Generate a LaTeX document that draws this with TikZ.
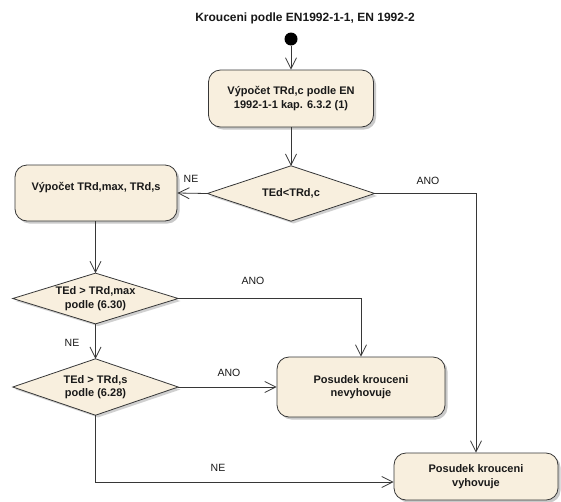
\documentclass[tikz,border=0pt]{standalone}
\usepackage{fontspec}
\setmainfont{Liberation Sans}
\usetikzlibrary{shapes.geometric,arrows.meta,shadows,calc}
\definecolor{boxfill}{RGB}{248,239,222}
\definecolor{linecol}{RGB}{55,55,55}
\definecolor{txtcol}{RGB}{25,25,25}
\tikzset{
  actbox/.style={draw=linecol, fill=boxfill, rounded corners=12pt, line width=0.8pt,
    align=center, inner sep=2pt, text=txtcol,
    font=\bfseries\fontsize{11}{13.5}\selectfont,
    drop shadow={shadow xshift=2.5pt, shadow yshift=-2.5pt, fill=black!35, opacity=0.6}},
  decbox/.style={diamond, draw=none, fill=boxfill, aspect=3, inner sep=0pt, align=center,
    text=txtcol, font=\bfseries\fontsize{11}{13.5}\selectfont,
    drop shadow={shadow xshift=2.5pt, shadow yshift=-2.5pt, fill=black!30, opacity=0.6}},
  arr/.style={draw=linecol, line width=0.8pt, -{Straight Barb[length=11pt,width=11pt,line width=0.8pt]}},
  lbl/.style={font=\fontsize{10.5}{12}\selectfont, text=txtcol, inner sep=0pt}
}
\begin{document}
\begin{tikzpicture}[x=1pt,y=-1pt]
\useasboundingbox[fill=white] (0,0) rectangle (561,501);

\node[font=\bfseries\fontsize{12}{14}\selectfont, text=txtcol, inner sep=0pt] (title) at (305,18) {Krouceni podle EN1992-1-1, EN 1992-2};
\node[circle, fill=black, minimum size=13pt, inner sep=0pt] (start) at (291,39) {};

\node[actbox, minimum width=165pt, minimum height=57pt] (b1) at (291,98.5) {Výpočet TRd,c podle EN\\1992-1-1 kap. 6.3.2 (1)};
\node[decbox, minimum width=167pt, minimum height=55pt] (d1) at (291,193.5) {TEd<TRd,c};
\node[actbox, minimum width=162pt, minimum height=56pt] (b2) at (96,193) {Výpočet TRd,max, TRd,s\\\mbox{}};
\node[decbox, minimum width=165pt, minimum height=47pt] (d2) at (95.5,298.5) {TEd > TRd,max\\podle (6.30)};
\node[decbox, minimum width=165pt, minimum height=56pt] (d3) at (95.5,387) {TEd > TRd,s\\podle (6.28)};
\node[actbox, minimum width=168pt, minimum height=60pt] (b3) at (361,387) {Posudek krouceni\\nevyhovuje};
\node[actbox, minimum width=164pt, minimum height=47pt] (b4) at (476,476.5) {Posudek krouceni\\vyhovuje};

\draw[draw=linecol, line width=0.8pt] (d1.north) -- (d1.east) -- (d1.south) -- (d1.west) -- cycle;
\draw[draw=linecol, line width=0.8pt] (d2.north) -- (d2.east) -- (d2.south) -- (d2.west) -- cycle;
\draw[draw=linecol, line width=0.8pt] (d3.north) -- (d3.east) -- (d3.south) -- (d3.west) -- cycle;

\draw[arr] (start) -- (b1.north);
\draw[arr] (b1.south) -- (d1.north);
\draw[arr] (d1.west) -- (b2.east);
\draw[arr] (d1.east) -| (b4.north);
\draw[arr] (b2.south -| d2.north) -- (d2.north);
\draw[arr] (d2.east) -| (b3.north);
\draw[arr] (d2.south) -- (d3.north);
\draw[arr] (d3.east) -- (b3.west);
\draw[arr] (d3.south) |- ($(b4.west)+(0,5.5)$);

\node[lbl] (l1) at (191,179) {NE};
\node[lbl] (l2) at (428,181) {ANO};
\node[lbl] (l3) at (253,281) {ANO};
\node[lbl] (l4) at (72,343) {NE};
\node[lbl] (l5) at (229,373) {ANO};
\node[lbl] (l6) at (218,468) {NE};
\end{tikzpicture}
\end{document}
